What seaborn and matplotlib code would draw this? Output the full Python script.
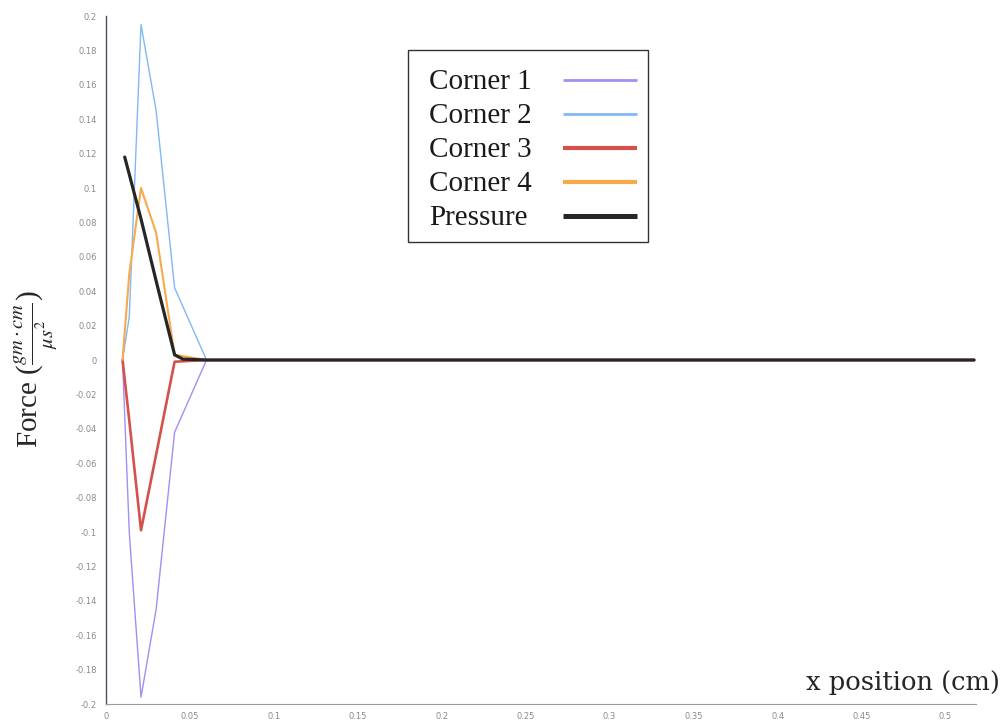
import matplotlib
matplotlib.use("Agg")
import matplotlib.pyplot as plt
from matplotlib.patches import Rectangle
from matplotlib.lines import Line2D
import numpy as np
import pandas as pd
import seaborn as sns

# Node positions along the plate (cm)
x_nodes = [0.010, 0.014, 0.021, 0.030, 0.041, 0.060]
x_tail = [0.08, 0.10, 0.15, 0.20, 0.25, 0.30, 0.35, 0.40, 0.45, 0.50, 0.517]
x_pressure = [0.0113, 0.014, 0.021, 0.030, 0.041, 0.046, 0.060]

# Force per corner / pressure (gm*cm/us^2)
corner1 = [0.0, -0.100, -0.196, -0.145, -0.042, 0.0]
corner2 = [0.0, 0.025, 0.195, 0.145, 0.042, 0.0]
corner3 = [0.0, -0.035, -0.099, -0.055, -0.001, 0.0]
corner4 = [0.0, 0.050, 0.100, 0.074, 0.003, 0.0]
pressure = [0.118, 0.108, 0.082, 0.046, 0.003, 0.0005, 0.0]
tail = [0.0] * len(x_tail)

series_names = ["Corner 1", "Corner 2", "Corner 3", "Corner 4", "Pressure"]
series_colors = ["#a48ef2", "#82b8f4", "#d4524c", "#f7aa4c", "#262626"]
series_widths = [1.0, 1.0, 1.9, 1.5, 2.3]
legend_widths = [2.0, 2.0, 3.0, 3.0, 3.6]

y_ticks = [round(v, 2) + 0.0 for v in np.arange(-0.2, 0.2001, 0.02)]
x_ticks = [0, 0.05, 0.1, 0.15, 0.2, 0.25, 0.3, 0.35, 0.4, 0.45, 0.5]


def tick_text(v):
    return "0" if abs(v) < 1e-9 else f"{v:g}"


frames = []
for name, xs, ys in [
    ("Corner 1", x_nodes, corner1),
    ("Corner 2", x_nodes, corner2),
    ("Corner 3", x_nodes, corner3),
    ("Corner 4", x_nodes, corner4),
    ("Pressure", x_pressure, pressure),
]:
    frames.append(pd.DataFrame({"x": list(xs) + x_tail, "force": list(ys) + tail, "series": name}))
df = pd.concat(frames, ignore_index=True)

sns.set_style("white")
plt.rcParams["axes.unicode_minus"] = False
plt.rcParams["mathtext.fontset"] = "stix"

W, H = 1007, 724
fig = plt.figure(figsize=(W / 100, H / 100), dpi=100)
ax = fig.add_axes([0.105, 0.0276, 0.864, 0.9503])

for name, color, lw in zip(series_names, series_colors, series_widths):
    sub = df[df["series"] == name]
    sns.lineplot(data=sub, x="x", y="force", color=color, linewidth=lw,
                 ax=ax, sort=False, estimator=None, legend=False)

ax.set_xlim(0, 0.518)
ax.set_ylim(-0.2, 0.2)
ax.set_xticks(x_ticks)
ax.set_xticklabels([tick_text(v) for v in x_ticks])
ax.set_yticks(y_ticks)
ax.set_yticklabels([tick_text(v) for v in y_ticks])
ax.tick_params(axis="both", labelsize=6, labelcolor="#8a8a8a", colors="#8a8a8a")
ax.tick_params(axis="y", direction="out", length=3, width=0.8, color="#555a66")
ax.tick_params(axis="x", direction="in", length=3, width=0.8, pad=6)

for side in ["top", "right"]:
    ax.spines[side].set_visible(False)
ax.spines["left"].set_color("#4a5060")
ax.spines["left"].set_linewidth(1.0)
ax.spines["bottom"].set_color("#9a9a9a")
ax.spines["bottom"].set_linewidth(0.8)
ax.spines["bottom"].set_linestyle((0, (2, 1)))

ax.set_xlabel("")
ax.set_ylabel("")
fig.text(0.035, 0.49, r"Force ($\frac{gm\cdot cm}{\mu s^2}$)", rotation=90,
         ha="center", va="center", fontsize=21, family="Liberation Serif")
fig.text(0.993, 0.057, "x position (cm)", ha="right", va="center",
         fontsize=18.5, family="DejaVu Serif")


# Legend panel: labels on the left, line samples on the right
def fx(px):
    return px / W


def fy(py):
    return 1 - py / H


fig.add_artist(Rectangle((fx(408), fy(242)), fx(648) - fx(408), fy(50) - fy(242),
                         transform=fig.transFigure, facecolor="white",
                         edgecolor="#333333", linewidth=1.0, zorder=5))
row_y = [79, 113, 147, 181, 215]
for name, color, lw, ry in zip(series_names, series_colors, legend_widths, row_y):
    fig.text(fx(429), fy(ry), name, ha="left", va="center_baseline",
             fontsize=21, family="Liberation Serif", color="#1a1a1a", zorder=6)
    fig.add_artist(Line2D([fx(563), fx(637)], [fy(ry + 1), fy(ry + 1)],
                          transform=fig.transFigure, color=color,
                          linewidth=lw, solid_capstyle="butt", zorder=6))

fig.savefig("out.png", dpi=100)
